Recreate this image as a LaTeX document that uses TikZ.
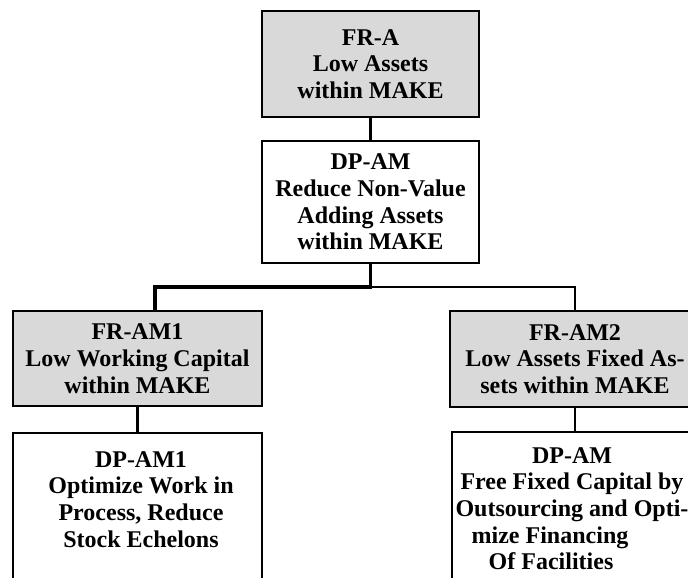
\documentclass[tikz,border=0pt]{standalone}
\usepackage{fontspec}
\setmainfont{Liberation Serif}
\definecolor{boxgray}{RGB}{217,217,217}
\begin{document}
\begin{tikzpicture}[x=1pt,y=-1pt,
  treebox/.style={draw=black, line width=2pt, inner sep=0pt, align=center,
    font=\bfseries\fontsize{24}{26.7}\selectfont},
  frbox/.style={treebox, fill=boxgray},
  dpbox/.style={treebox, fill=white},
  boxtext/.style={align=center, inner sep=0pt, font=\bfseries\fontsize{24}{26.7}\selectfont},
  thickline/.style={line width=3.8pt},
  thinline/.style={line width=2pt}]
\useasboundingbox (0,0) rectangle (688,578);
\clip (0,0) rectangle (688,578);

% upper level
\node[frbox, minimum width=217pt, minimum height=106pt] (frA) at (370.5,64)
  {FR-A\\Low Assets\\within MAKE};
\node[dpbox, minimum width=217pt, minimum height=122pt] (dpA) at (370.5,202)
  {DP-AM\\Reduce Non-Value\\Adding Assets\\within MAKE};

% second level, functional requirements
\node[frbox, minimum width=249pt, minimum height=95pt] (frL) at (137.5,358.5)
  {FR-AM1\\Low Working Capital\\within MAKE};
\node[frbox, minimum width=250pt, minimum height=96pt] (frR) at (575,359)
  {FR-AM2\\Low Assets Fixed As-\\sets within MAKE};

% second level, design parameters
\node[dpbox, minimum width=249pt, minimum height=152pt, anchor=north] (dpL) at (137.5,432) {};
\node[boxtext, anchor=north] (dpLtext) at (141,451)
  {DP-AM1\\Optimize Work in\\Process, Reduce\\Stock Echelons};
\node[dpbox, minimum width=248pt, minimum height=153pt, anchor=north] (dpR) at (576,431) {};
\node[boxtext, anchor=north] (dpRtext) at (572,447)
  {DP-AM\\Free Fixed Capital by\\Outsourcing and Opti-\\mize Financing\rule{44pt}{0pt}\\Of Facilities\rule{42pt}{0pt}};

% branch points of the tree
\coordinate (bus) at (0,287);
\coordinate (split) at (dpA.south |- bus);
\coordinate (leftdrop) at (155,287);
\coordinate (rightdrop) at (frR.north |- bus);

% connectors
\draw[thickline] (frA.south) -- (dpA.north);
\draw[thickline] (dpA.south) -- (split) -- (leftdrop) -- (leftdrop |- frL.north);
\draw[thinline] (split) -- (rightdrop) -- (frR.north);
\draw[thickline] (frL.south) -- (dpL.north);
\draw[thinline] (frR.south) -- (frR.south |- dpR.north);
\end{tikzpicture}
\end{document}
